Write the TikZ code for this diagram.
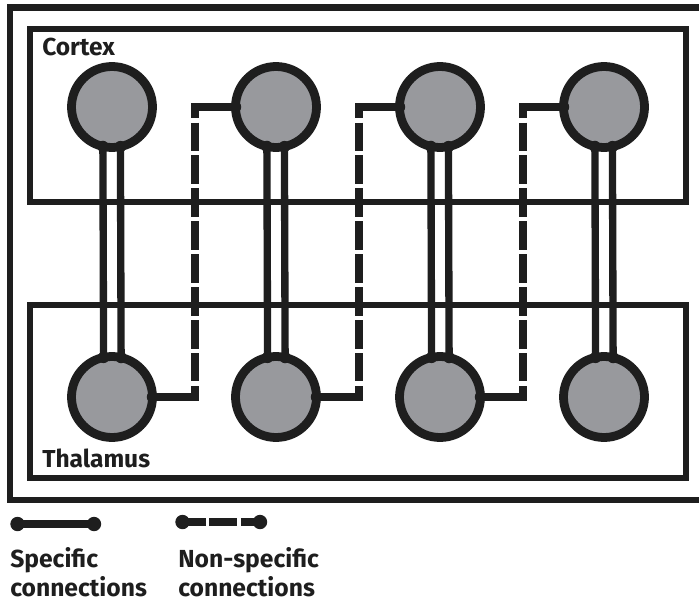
\documentclass[tikz,border=0pt]{standalone}
\usepackage{fontspec}
\setmainfont{Fira Sans}
\usetikzlibrary{calc}
\definecolor{ink}{RGB}{30,30,30}
\definecolor{soma}{RGB}{152,153,157}
\pgfdeclarelayer{back}
\pgfsetlayers{back,main}
\begin{document}
\begin{tikzpicture}[x=0.75pt,y=-0.75pt,
  frame/.style={draw=ink,line width=5pt},
  cell/.style={circle,draw=ink,fill=soma,line width=6.6pt,minimum size=60.75pt,inner sep=0pt,outer sep=0pt},
  spec/.style={draw=ink,line width=5.5pt},
  spokeh/.style={draw=ink,line width=5.5pt,line cap=rect},
  nonspec/.style={draw=ink,line width=5.5pt,dash pattern=on 21.3pt off 3.4pt,dash phase=13.05pt},
  legdash/.style={draw=ink,line width=5.8pt,dash pattern=on 17.6pt off 2.6pt on 20.6pt off 3pt on 20pt},
  joint/.style={fill=ink},
  areatext/.style={font=\bfseries\fontsize{18.4}{21}\selectfont,text=ink,inner sep=0pt,anchor=base west},
  legtext/.style={font=\bfseries\fontsize{18.5}{22}\selectfont,text=ink,inner sep=0pt,anchor=base west},
  enddot/.style={circle,fill=ink,minimum size=10.8pt,inner sep=0pt}]
\useasboundingbox (0,0) rectangle (699,602);

% neurons: cortex row (c) and thalamus row (t)
\foreach \i/\x in {1/112,2/276,3/440,4/604} {
  \node[cell] (c\i) at (\x,107) {};
  \node[cell] (t\i) at (\x,397) {};
}
% corners of the non-specific pathways
\foreach \i/\x in {1/195,2/359,3/523} {
  \coordinate (nu\i) at (\x,107);
  \coordinate (nd\i) at (\x,397);
}

\begin{pgfonlayer}{back}
  \fill[white] (0,0) rectangle (699,602);
  % outer frame and the two areas
  \draw[frame] (703,7.5) -- (10,7.5) -- (10,500) -- (703,500);
  \draw[frame] (30,29) rectangle (686,202);
  \draw[frame] (30,305) rectangle (686,478);
  % specific (reciprocal) connections
  \foreach \i in {1,...,4} {
    \draw[spec] (c\i.257.2) -- (t\i.102.8);
    \draw[spec] (c\i.282.8) -- (t\i.77.2);
  }
  % non-specific connections
  \foreach \i/\j in {1/2,2/3,3/4} {
    \draw[spokeh] (c\j.west) -- (nu\i);
    \draw[spokeh] (t\i.east) -- (nd\i);
    \draw[nonspec] (nu\i) -- (nd\i);
  }
\end{pgfonlayer}

% synaptic contacts on the cell bodies
\foreach \i in {1,...,4} {
  \fill[joint] (c\i.257.2) circle (4.3pt);
  \fill[joint] (c\i.282.8) circle (4.3pt);
  \fill[joint] (t\i.102.8) circle (4.3pt);
  \fill[joint] (t\i.77.2) circle (4.3pt);
}
\foreach \i/\j in {1/2,2/3,3/4} {
  \fill[joint] (c\j.west) circle (4.3pt);
  \fill[joint] (t\i.east) circle (4.3pt);
}

\node[areatext] (cortex) at (42,56) {Cortex};
\node[areatext] (thalamus) at (42,467) {Thalamus};

% legend
\node[enddot] (s1) at (17.5,524) {};
\node[enddot] (s2) at (94,524) {};
\draw[spec,line width=5.8pt] (s1.center) -- (s2.center);
\node[enddot] (n1) at (182.5,522) {};
\node[enddot] (n2) at (260,522) {};
\draw[legdash] (n1.center) -- (n2.center);

\node[legtext] (sp1) at (10,567) {Specific};
\node[legtext] (sp2) at (10,596) {connections};
\node[legtext] (ns1) at (178,567) {Non-specific};
\node[legtext] (ns2) at (178,596) {connections};
\end{tikzpicture}
\end{document}
